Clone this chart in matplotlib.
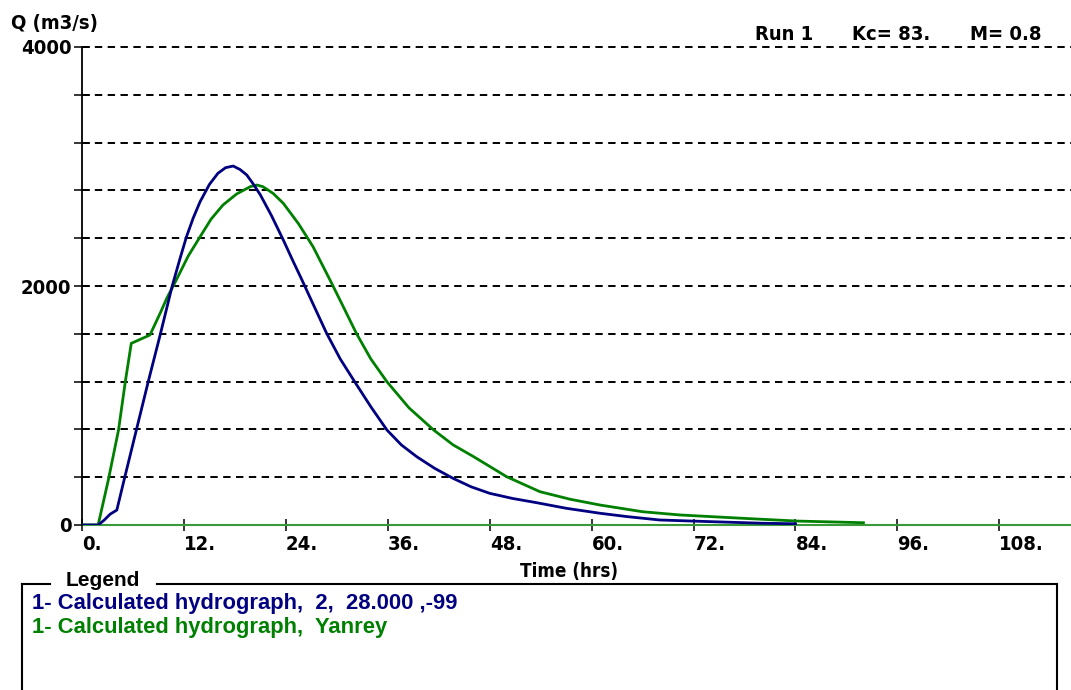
import matplotlib
matplotlib.use("Agg")
import matplotlib.pyplot as plt
from matplotlib.lines import Line2D
from matplotlib.ticker import FixedLocator, FixedFormatter
from matplotlib import font_manager

# ---- data ----
t_calc = [0, 1.9, 2.6, 3.3, 4.1, 5.0, 6.4, 7.8, 9.2, 10.6, 11.5, 12.3, 13.1, 13.9,
          15.0, 16.0, 16.9, 17.8, 18.6, 19.4, 20.2, 21.0, 22.3, 23.7, 24.8, 25.9,
          26.8, 28.8, 30.4, 32.1, 34.0, 35.9, 37.6, 39.4, 41.5, 43.7, 45.8, 48.0,
          50.7, 53.5, 57.0, 61.0, 64.2, 68.0, 74.0, 80.0, 84.0]
q_calc = [0, 0, 40, 90, 125, 390, 795, 1200, 1590, 1995, 2220, 2412, 2570, 2705,
          2850, 2943, 2990, 3004, 2975, 2929, 2850, 2762, 2590, 2385, 2215, 2050,
          1911, 1604, 1390, 1199, 990, 795, 670, 572, 475, 390, 320, 265,
          222, 187, 140, 98, 70, 42, 28, 15, 10]

t_yan = [0, 1.9, 3.1, 4.3, 5.1, 5.8, 8.0, 9.2, 10.0, 11.1, 12.5, 13.9, 15.2, 16.6,
         18.2, 19.8, 20.6, 21.3, 22.5, 23.7, 25.5, 27.2, 29.2, 30.6, 32.3, 34.0,
         35.9, 38.5, 41.4, 43.7, 46.1, 50.0, 53.9, 57.5, 61.0, 66.0, 70.4, 77.8,
         84.2, 92.0]
q_yan = [0, 0, 377, 795, 1200, 1520, 1590, 1772, 1900, 2050, 2250, 2412, 2560, 2678,
         2770, 2831, 2845, 2831, 2775, 2692, 2520, 2329, 2050, 1850, 1604, 1390,
         1199, 980, 795, 670, 572, 404, 279, 215, 167, 111, 84, 56,
         33, 19]

x_ticks = [0, 12, 24, 36, 48, 60, 72, 84, 96, 108]
x_tick_labels = ["0.", "12.", "24.", "36.", "48.", "60.", "72.", "84.", "96.", "108."]
y_ticks = [0, 400, 800, 1200, 1600, 2000, 2400, 2800, 3200, 3600, 4000]
y_tick_labels = ["0", "", "", "", "", "2000", "", "", "", "", "4000"]

legend_entries = ["1- Calculated hydrograph,  2,  28.000 ,-99",
                  "1- Calculated hydrograph,  Yanrey"]

NAVY = "#000080"
GREEN = "#008000"

W, H = 1071, 690

# look for a condensed face for the tall, narrow system font
names = {f.name for f in font_manager.fontManager.ttflist}
cond = [f for f in font_manager.fontManager.ttflist
        if f.name == "DejaVu Sans" and f.stretch == "condensed"]
if "Liberation Sans Narrow" in names:
    NARROW = {"family": "Liberation Sans Narrow"}
elif cond:
    NARROW = {"family": "DejaVu Sans", "stretch": "condensed"}
else:
    NARROW = {"family": "Liberation Sans"}
WIDE = {"family": "Liberation Sans"}

fig = plt.figure(figsize=(W / 100, H / 100), dpi=100)
fig.patch.set_facecolor("white")

def fx(px):
    return px / W

def fy(py):
    return 1 - py / H

ax_left, ax_right, ax_top, ax_bot = 82, 1071, 47, 525
ax = fig.add_axes([fx(ax_left), fy(ax_bot), fx(ax_right - ax_left), (ax_bot - ax_top) / H])
ax.set_xlim(0, (ax_right - ax_left) / 8.494)
ax.set_ylim(0, 4000)

# dashed gridlines
for yv in y_ticks[1:]:
    ax.axhline(yv, color="black", lw=1.4, dashes=(3.8, 2.8), zorder=1, clip_on=False)

ax.plot(t_yan, q_yan, color=GREEN, lw=2.0, zorder=3, solid_joinstyle="round")
ax.plot(t_calc, q_calc, color=NAVY, lw=2.0, zorder=4, solid_joinstyle="round")

for s in ("top", "right"):
    ax.spines[s].set_visible(False)
ax.spines["left"].set_color("black")
ax.spines["left"].set_linewidth(1.3)
ax.spines["bottom"].set_color("#3a9a3a")
ax.spines["bottom"].set_linewidth(1.5)
ax.spines["bottom"].set_zorder(2)

ax.xaxis.set_major_locator(FixedLocator(x_ticks))
ax.xaxis.set_major_formatter(FixedFormatter(x_tick_labels))
ax.yaxis.set_major_locator(FixedLocator(y_ticks))
ax.yaxis.set_major_formatter(FixedFormatter(y_tick_labels))
ax.tick_params(axis="x", direction="inout", length=9, width=1.1, color="black", pad=3)
ax.tick_params(axis="y", direction="inout", length=11, width=1.1, color="black", pad=2)
fp_tick = font_manager.FontProperties(weight="bold", size=14.5, **NARROW)
for lab in ax.get_xticklabels():
    lab.set_horizontalalignment("left")
    lab.set_fontproperties(fp_tick)
for lab in ax.get_yticklabels():
    lab.set_fontproperties(fp_tick)

ax.set_xlabel("Time (hrs)", fontproperties=font_manager.FontProperties(
    weight="bold", size=13.5, **NARROW))
ax.xaxis.set_label_coords((569 - ax_left) / (ax_right - ax_left), -(572 - ax_bot) / (ax_bot - ax_top))
ax.xaxis.label.set_verticalalignment("center")

fp_title = font_manager.FontProperties(weight="bold", size=14.5, **NARROW)
fig.text(fx(11), fy(23), "Q (m3/s)", fontproperties=fp_title, ha="left", va="center")
fig.text(fx(755), fy(34), "Run 1", fontproperties=fp_title, ha="left", va="center")
fig.text(fx(852), fy(34), "Kc= 83.", fontproperties=fp_title, ha="left", va="center")
fig.text(fx(970), fy(34), "M= 0.8", fontproperties=fp_title, ha="left", va="center")

# legend box
lw_box = 1.5
fig.add_artist(Line2D([fx(22), fx(50)], [fy(584), fy(584)], color="black", lw=lw_box))
fig.add_artist(Line2D([fx(157), fx(1057)], [fy(584), fy(584)], color="black", lw=lw_box))
fig.add_artist(Line2D([fx(22), fx(22)], [fy(584), fy(700)], color="black", lw=lw_box))
fig.add_artist(Line2D([fx(1057), fx(1057)], [fy(584), fy(700)], color="black", lw=lw_box))
fig.text(fx(66), fy(581), "Legend",
         fontproperties=font_manager.FontProperties(weight="bold", size=15, **WIDE),
         ha="left", va="center")
fp_leg = font_manager.FontProperties(weight="bold", size=15.8, **WIDE)
fig.text(fx(32), fy(603), legend_entries[0], fontproperties=fp_leg, color=NAVY,
         ha="left", va="center")
fig.text(fx(32), fy(627), legend_entries[1], fontproperties=fp_leg, color=GREEN,
         ha="left", va="center")

fig.savefig("out.png", dpi=100, facecolor="white")
